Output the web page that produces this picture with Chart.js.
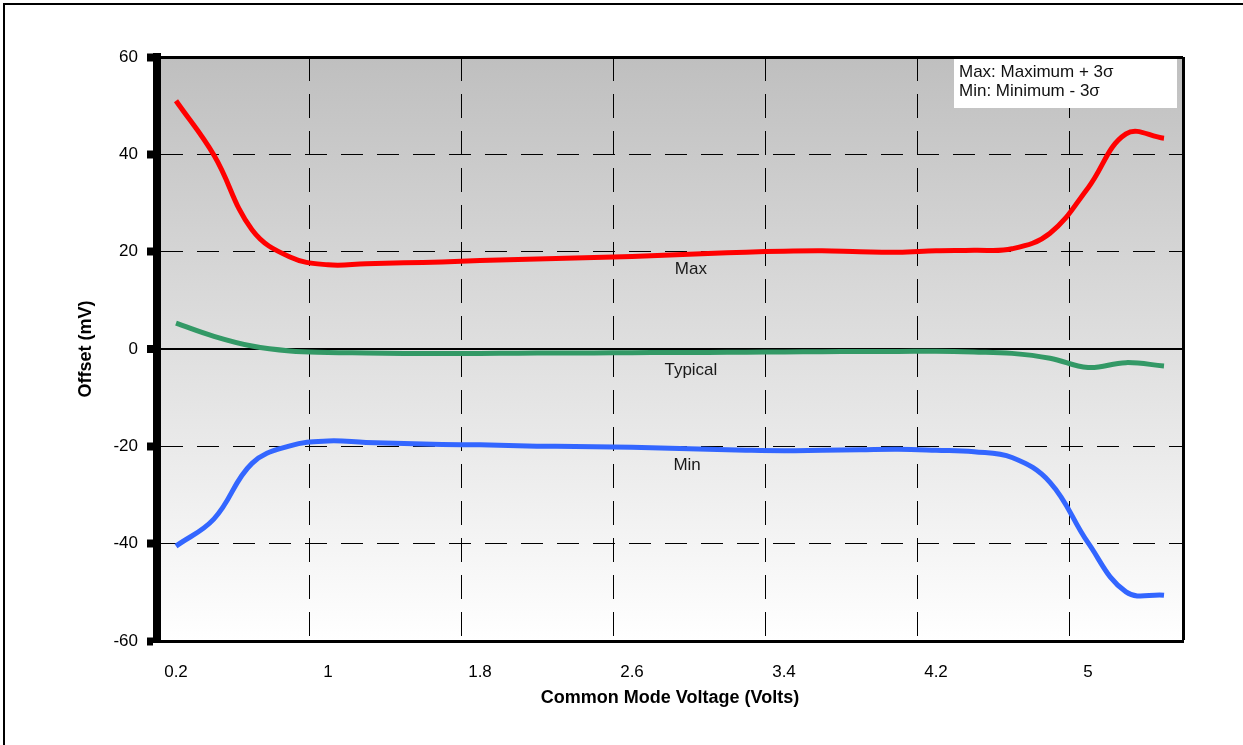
<!DOCTYPE html>
<html>
<head>
<meta charset="utf-8">
<title>Offset vs Common Mode Voltage</title>
<script src="https://cdn.jsdelivr.net/npm/chart.js@4.4.1/dist/chart.umd.min.js"></script>
<style>
  body { margin: 0; background: #fff; }
  #wrap { position: relative; width: 1243px; height: 745px; overflow: hidden; }
  #frame { position: absolute; left: 3px; top: 3px; width: 1300px; height: 800px;
           border-top: 2px solid #000; border-left: 2px solid #000; }
  canvas { position: absolute; left: 0; top: 0; }
</style>
</head>
<body>
<div id="wrap">
  <div id="frame"></div>
  <canvas id="chart" width="1243" height="745"></canvas>
</div>
<script>
// common mode voltage (V), one category every 0.2 V
const voltages = ['0.2', '0.4', '0.6', '0.8', '1', '1.2', '1.4', '1.6', '1.8', '2', '2.2', '2.4', '2.6',
                  '2.8', '3', '3.2', '3.4', '3.6', '3.8', '4', '4.2', '4.4', '4.6', '4.8', '5', '5.2', '5.4'];

// offset (mV)
const maxOffset = [51, 39.8, 24.5, 18.9, 17.3, 17.5, 17.7, 17.9, 18.2, 18.4, 18.6, 18.8, 19.0, 19.3,
                   19.6, 19.9, 20.1, 20.2, 20.0, 19.9, 20.2, 20.3, 20.6, 23.8, 33.1, 44.2, 43.3];
const typicalOffset = [5.3, 2.6, 0.6, -0.4, -0.7, -0.8, -0.9, -0.9, -0.9, -0.85, -0.8, -0.8, -0.75, -0.7,
                       -0.7, -0.65, -0.6, -0.55, -0.5, -0.5, -0.45, -0.6, -0.9, -1.9, -3.8, -2.8, -3.5];
const minOffset = [-40.5, -34.9, -23.5, -19.9, -18.9, -19.2, -19.4, -19.6, -19.7, -19.9, -20.0, -20.1, -20.2, -20.4,
                   -20.6, -20.8, -20.9, -20.8, -20.7, -20.6, -20.8, -21.1, -22.3, -27.4, -39.8, -49.9, -50.6];

// y axis
const yMin = -60;
const yMax = 60;
const yStep = 20;

// text written next to each curve (volts, mV)
const noteText = ['Max', 'Typical', 'Min'];
const noteVolt = [2.91, 2.91, 2.89];
const noteValue = [16.4, -4.3, -24.0];

const boxLines = ['Max: Maximum + 3\u03c3', 'Min: Minimum - 3\u03c3'];

Chart.defaults.font.family = "'Liberation Sans', Arial, sans-serif";
Chart.defaults.color = '#000';

const plotBackground = {
    id: 'plotBackground',
    beforeDraw(chart) {
        const { ctx, chartArea: a } = chart;
        const g = ctx.createLinearGradient(0, a.top, 0, a.bottom);
        g.addColorStop(0, '#bfbfbf');
        g.addColorStop(1, '#ffffff');
        ctx.save();
        ctx.fillStyle = g;
        ctx.fillRect(a.left, a.top, a.right - a.left, a.bottom - a.top);
        ctx.restore();
    }
};

const curveNotes = {
    id: 'curveNotes',
    afterDatasetsDraw(chart) {
        const { ctx, scales } = chart;
        ctx.save();
        ctx.font = "17px 'Liberation Sans', Arial, sans-serif";
        ctx.fillStyle = '#1a1a1a';
        ctx.textAlign = 'center';
        ctx.textBaseline = 'middle';
        noteText.forEach(function(t, i) {
            const idx = (noteVolt[i] - 0.2) / 0.2;
            ctx.fillText(t, scales.x.getPixelForValue(idx), scales.y.getPixelForValue(noteValue[i]));
        });
        ctx.restore();
    }
};

const sigmaBox = {
    id: 'sigmaBox',
    afterDraw(chart) {
        const { ctx, chartArea: a } = chart;
        const w = 223, h = 49;
        const left = a.right - w - 6;
        const top = a.top + 2;
        ctx.save();
        ctx.fillStyle = '#fff';
        ctx.fillRect(left, top, w, h);
        ctx.font = "17px 'Liberation Sans', Arial, sans-serif";
        ctx.fillStyle = '#111';
        ctx.textBaseline = 'middle';
        boxLines.forEach(function(line, i) {
            ctx.fillText(line, left + 5, top + 13 + i * 19);
        });
        ctx.restore();
    }
};

new Chart(document.getElementById('chart'), {
    type: 'line',
    data: {
        labels: voltages,
        datasets: [
            { label: 'Max', data: maxOffset, borderColor: '#ff0000' },
            { label: 'Typical', data: typicalOffset, borderColor: '#339966' },
            { label: 'Min', data: minOffset, borderColor: '#3366ff' }
        ]
    },
    options: {
        responsive: false,
        devicePixelRatio: 1,
        animation: false,
        layout: { padding: { left: 57, top: 57, right: 60, bottom: 24 } },
        elements: {
            line: { borderWidth: 5, tension: 0.4, fill: false },
            point: { radius: 0, hoverRadius: 0 }
        },
        plugins: {
            legend: { display: false },
            tooltip: { enabled: false }
        },
        scales: {
            x: {
                type: 'category',
                offset: true,
                grid: {
                    offset: true,
                    drawTicks: false,
                    color: '#000',
                    // a line every 4th category, the last one is the right frame
                    lineWidth: (c) => !c.tick ? 3 : (c.index % 4 === 0 ? 1 : 0)
                },
                border: {
                    color: '#000',
                    width: 3,
                    dash: (c) => c.tick ? [24, 13] : []
                },
                ticks: {
                    autoSkip: false,
                    maxRotation: 0,
                    padding: 21,
                    font: { size: 17 },
                    callback: (v, i) => i % 4 === 0 ? voltages[i] : ''
                },
                title: {
                    display: true,
                    text: 'Common Mode Voltage (Volts)',
                    font: { size: 18, weight: 'bold' },
                    padding: { top: 0, bottom: 12 }
                },
                afterFit: (s) => { s.height = 80; }
            },
            y: {
                min: yMin,
                max: yMax,
                ticks: {
                    stepSize: yStep,
                    padding: 9,
                    font: { size: 17 }
                },
                grid: {
                    color: '#000',
                    lineWidth: (c) => {
                        if (!c.tick) return 1;
                        if (c.tick.value === yMax || c.tick.value === yMin) return 3;
                        return c.tick.value === 0 ? 2 : 1;
                    },
                    tickLength: 10,
                    tickWidth: 8,
                    tickColor: '#000'
                },
                border: {
                    color: '#000',
                    width: 8,
                    dash: (c) => (c.tick && c.tick.value !== 0 && c.tick.value !== yMax && c.tick.value !== yMin) ? [22, 14] : []
                },
                title: {
                    display: true,
                    text: 'Offset (mV)',
                    font: { size: 18, weight: 'bold' },
                    padding: { top: 18, bottom: 0 }
                },
                afterFit: (s) => { s.width = 100; }
            }
        }
    },
    plugins: [plotBackground, curveNotes, sigmaBox]
});
</script>
</body>
</html>
